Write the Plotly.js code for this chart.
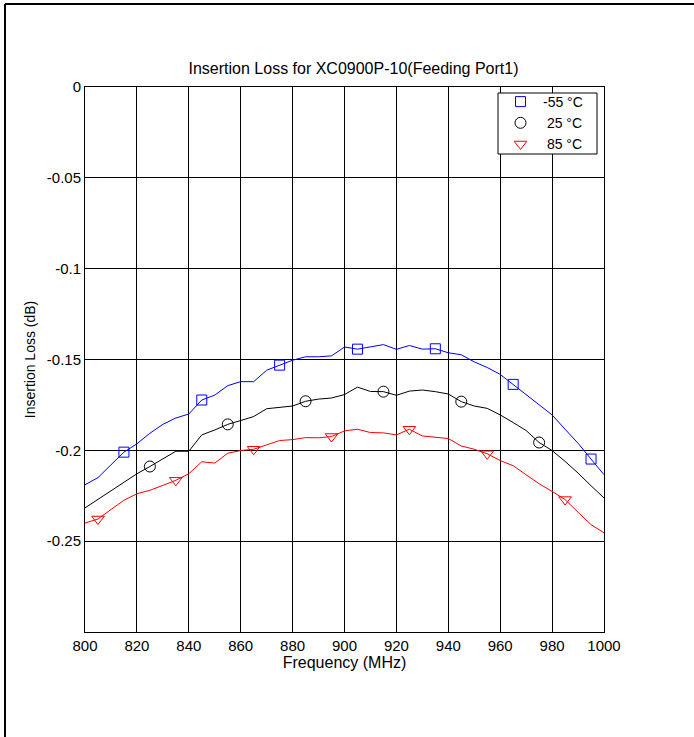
<!DOCTYPE html>
<html>
<head>
<meta charset="utf-8">
<script src="https://cdn.plot.ly/plotly-3.0.1.min.js"></script>
<style>html,body{margin:0;padding:0;background:#fff;}#chart{width:694px;height:737px;}</style>
</head>
<body>
<div id="chart"></div>
<script>
const freq = [800,805,810,815,820,825,830,835,840,845,850,855,860,865,870,875,880,885,890,895,900,905,910,915,920,925,930,935,940,945,950,955,960,965,970,975,980,985,990,995,1000];
const lossM55 = [-0.219,-0.215,-0.208,-0.201,-0.1964,-0.1906,-0.1857,-0.1822,-0.180,-0.1723,-0.1696,-0.1644,-0.1622,-0.1622,-0.1559,-0.1531,-0.1504,-0.1485,-0.1485,-0.148,-0.1431,-0.1443,-0.1431,-0.1418,-0.1444,-0.1423,-0.1443,-0.1441,-0.1463,-0.1474,-0.1513,-0.1544,-0.1582,-0.1637,-0.1696,-0.175,-0.1805,-0.1884,-0.1961,-0.2048,-0.2134];
const loss25 = [-0.2317,-0.2271,-0.2224,-0.2175,-0.2129,-0.2089,-0.2048,-0.2005,-0.2005,-0.1915,-0.1888,-0.1857,-0.1836,-0.1814,-0.1771,-0.1763,-0.1756,-0.173,-0.1718,-0.1712,-0.1693,-0.1652,-0.1676,-0.1677,-0.1697,-0.1674,-0.1668,-0.1677,-0.169,-0.1732,-0.1756,-0.1769,-0.1805,-0.1847,-0.1891,-0.1957,-0.2001,-0.2061,-0.2125,-0.2195,-0.2262];
const loss85 = [-0.240,-0.2378,-0.2326,-0.2275,-0.2239,-0.222,-0.2193,-0.2165,-0.2129,-0.2063,-0.207,-0.2016,-0.2001,-0.1994,-0.197,-0.1946,-0.1941,-0.193,-0.1931,-0.1924,-0.1893,-0.1884,-0.1902,-0.1904,-0.1915,-0.1884,-0.1921,-0.193,-0.1935,-0.1976,-0.1994,-0.2019,-0.2056,-0.2085,-0.2134,-0.2184,-0.2226,-0.2271,-0.2341,-0.2409,-0.2454];
const markM55 = [815,845,875,905,935,965,995];
const mark25 = [825,855,885,915,945,975];
const mark85 = [805,835,865,895,925,955,985];
const seriesNames = ["-55 °C", "\u00a025 °C", "\u00a085 °C"];
const xTicks = [800,820,840,860,880,900,920,940,960,980,1000];
const yTicks = [0,-0.05,-0.1,-0.15,-0.2,-0.25];
const yTickText = ["0","-0.05","-0.1","-0.15","-0.2","-0.25"];

function pick(marks, vals){ return marks.map(f => vals[freq.indexOf(f)]); }

const series = [
  {vals: lossM55, marks: markM55, color: '#0000ff', symbol: 'square-open', size: 10},
  {vals: loss25, marks: mark25, color: '#000000', symbol: 'circle-open', size: 11},
  {vals: loss85, marks: mark85, color: '#ff0000', symbol: 'triangle-down-open', size: 11}
];
const traces = [];
series.forEach((s,i) => {
  traces.push({x: freq, y: s.vals, mode: 'lines', line: {color: s.color, width: 1}, showlegend: false, hoverinfo: 'skip'});
});
series.forEach((s,i) => {
  traces.push({x: s.marks, y: pick(s.marks, s.vals), mode: 'markers', name: seriesNames[i],
    marker: {symbol: s.symbol, size: s.size, color: s.color, line: {color: s.color, width: 1}}});
});

const F = 'Arial, "Liberation Sans", sans-serif';
const axisCommon = {showline: true, linecolor: '#000', linewidth: 1, mirror: 'ticks', ticks: 'inside', ticklen: 5, tickcolor: '#000',
  showgrid: true, gridcolor: '#000', gridwidth: 1, zeroline: false, tickfont: {family: F, size: 15, color: '#000'}};

const px = v => (v - 85) / 519;
const py = v => (632 - v) / 545;

const layout = {
  width: 694, height: 737,
  margin: {l: 85, r: 90, t: 87, b: 105},
  paper_bgcolor: '#fff', plot_bgcolor: '#fff',
  font: {family: F, size: 15, color: '#000'},
  title: {text: 'Insertion Loss for XC0900P-10(Feeding Port1)', font: {family: F, size: 16, color: '#000'}, x: 0.5 + 9/519, xref: 'paper', xanchor: 'center', y: 1 - 68/737, yanchor: 'middle'},
  xaxis: Object.assign({}, axisCommon, {range: [800, 1000], tickvals: xTicks, title: {text: 'Frequency (MHz)', font: {family: F, size: 16}, standoff: 2}}),
  yaxis: Object.assign({}, axisCommon, {range: [-0.3, 0], tickvals: yTicks, ticktext: yTickText, title: {text: 'Insertion Loss (dB)', font: {family: F, size: 14}, standoff: 7}}),
  legend: {x: px(498), y: py(86), xanchor: 'left', yanchor: 'top', bgcolor: 'rgba(0,0,0,0)', borderwidth: 0, itemwidth: 35, font: {family: F, size: 14, color: '#000'}},
  shapes: [
    {type: 'rect', xref: 'paper', yref: 'paper', layer: 'above', x0: px(498), x1: px(597), y0: py(154), y1: py(93), fillcolor: '#fff', line: {color: '#000', width: 1}},
    {type: 'line', xref: 'paper', yref: 'paper', x0: px(5), x1: px(5), y0: py(740), y1: py(4), line: {color: '#000', width: 2}},
    {type: 'line', xref: 'paper', yref: 'paper', x0: px(5), x1: px(700), y0: py(4), y1: py(4), line: {color: '#000', width: 2}}
  ]
};
Plotly.newPlot('chart', traces, layout, {staticPlot: true, displayModeBar: false});
</script>
</body>
</html>
